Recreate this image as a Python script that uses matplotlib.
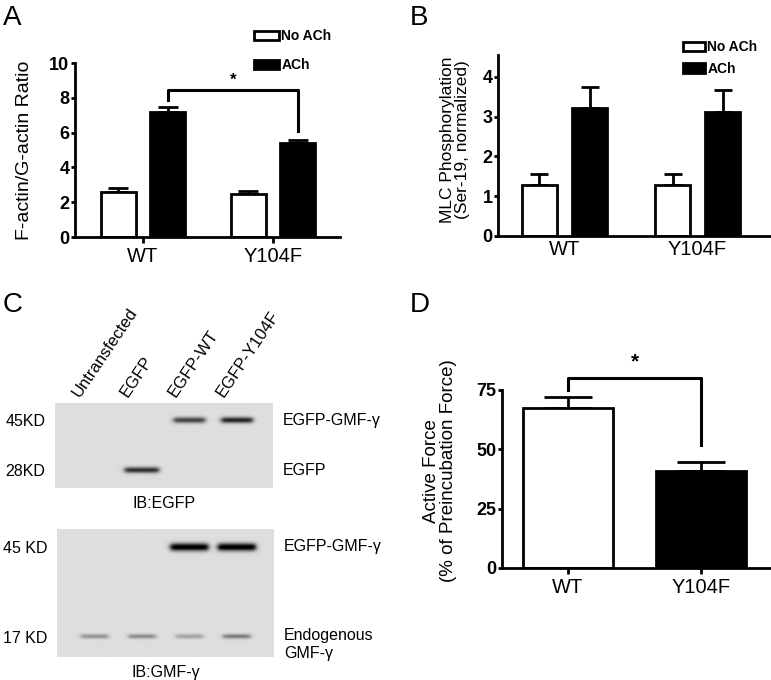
import numpy as np
import matplotlib
matplotlib.use("Agg")
import matplotlib.pyplot as plt  # noqa: E402
from matplotlib.patches import Patch  # noqa: E402

plt.rcParams["font.family"] = ["Liberation Sans", "DejaVu Sans"]

W, H = 771, 680

# ---- data ------------------------------------------------------------------
groups = ["WT", "Y104F"]
legend_labels = ["No ACh", "ACh"]

# A: F-actin/G-actin ratio
a_noach = [2.6, 2.45]
a_noach_err = [0.2, 0.2]
a_ach = [7.2, 5.38]
a_ach_err = [0.25, 0.17]
a_bracket = [7.86, 6.09]   # leg ends (left, right)
a_bracket_top = 8.43

# B: MLC phosphorylation
b_noach = [1.27, 1.29]
b_noach_err = [0.28, 0.28]
b_ach = [3.22, 3.12]
b_ach_err = [0.53, 0.56]

# D: active force
d_force = [67.3, 41.0]
d_force_err = [4.7, 3.5]
d_bracket = [75.0, 52.0]
d_bracket_top = 80.0

# C: western blots (band darkness per lane)
lanes = ["Untransfected", "EGFP", "EGFP-WT", "EGFP-Y104F"]
blot1_rows = [0.20, 0.79]
blot1_left = ["45KD", "28KD"]
blot1_right = ["EGFP-GMF-\u03b3", "EGFP"]
blot1_bands = [[0.0, 0.0, 0.62, 0.75],
               [0.0, 0.70, 0.0, 0.0]]
blot2_rows = [0.14, 0.84]
blot2_left = ["45 KD", "17 KD"]
blot2_right = ["EGFP-GMF-\u03b3", "Endogenous\nGMF-\u03b3"]
blot2_bands = [[0.0, 0.0, 0.95, 0.95],
               [0.30, 0.33, 0.24, 0.40]]


def box(x0, y0, x1, y1):
    return [x0 / W, 1 - y1 / H, (x1 - x0) / W, (y1 - y0) / H]


def style_axis(ax, xticks=True):
    for s in ("top", "right"):
        ax.spines[s].set_visible(False)
    for s in ("left", "bottom"):
        ax.spines[s].set_linewidth(2)
    ax.tick_params(axis="y", length=3, width=2, pad=1, labelsize=13)
    ax.tick_params(axis="x", length=4 if xticks else 0, width=2, pad=3,
                   labelsize=14.5)
    for t in ax.get_yticklabels():
        t.set_fontweight("bold")


def err_up(ax, x, y, e, cap):
    ax.errorbar(x, y, yerr=[np.zeros(len(e)), e], fmt="none", ecolor="black",
                elinewidth=2, capsize=cap, capthick=2, zorder=1)


fig = plt.figure(figsize=(W / 100, H / 100), dpi=100)

# ---- A --------------------------------------------------------------------
ax = fig.add_axes(box(75, 63, 340, 237))
x = np.arange(len(groups))
bw, off = 0.27, 0.19
err_up(ax, x - off, a_noach, a_noach_err, 7)
err_up(ax, x + off, a_ach, a_ach_err, 7)
ax.bar(x - off, a_noach, bw, color="white", edgecolor="black", linewidth=2,
       zorder=2)
ax.bar(x + off, a_ach, bw, color="black", edgecolor="black", linewidth=2,
       zorder=2)
ax.set_xlim(-0.523, 1.515)
ax.set_ylim(0, 10)
ax.set_yticks([0, 2, 4, 6, 8, 10])
ax.set_xticks(x, groups)
style_axis(ax)
ax.plot([off, off, 1 + off, 1 + off],
        [a_bracket[0], a_bracket_top, a_bracket_top, a_bracket[1]],
        color="black", lw=2.2, clip_on=False)
ax.text(0.5 + off, 9.0, "*", ha="center", va="center", fontsize=12,
        fontweight="bold")
ax.set_ylabel("F-actin/G-actin Ratio", fontsize=14)
ax.yaxis.set_label_coords(-0.158, 0.5)
handles = [Patch(facecolor="white", edgecolor="black", linewidth=2),
           Patch(facecolor="black", edgecolor="black", linewidth=2)]
ax.legend(handles, legend_labels, loc="upper left",
          bbox_to_anchor=(0.65, 1.235), frameon=False, borderpad=0,
          handlelength=1.8, handleheight=0.6, handletextpad=0.15,
          labelspacing=1.1, prop={"size": 10, "weight": "bold"})
fig.text(3 / W, 1 - 5 / H, "A", fontsize=20, va="top", ha="left")

# ---- B --------------------------------------------------------------------
ax = fig.add_axes(box(498, 55, 770, 236))
bw, off = 0.263, 0.188
err_up(ax, x - off, b_noach, b_noach_err, 6.5)
err_up(ax, x + off, b_ach, b_ach_err, 6.5)
ax.bar(x - off, b_noach, bw, color="white", edgecolor="black", linewidth=2,
       zorder=2)
ax.bar(x + off, b_ach, bw, color="black", edgecolor="black", linewidth=2,
       zorder=2)
ax.set_xlim(-0.5, 1.545)
ax.set_ylim(0, 4.55)
ax.set_yticks([0, 1, 2, 3, 4])
ax.set_xticks(x, groups)
style_axis(ax, xticks=False)
ax.set_ylabel("MLC Phosphorylation\n(Ser-19, normalized)", fontsize=12.5,
              linespacing=1.0)
ax.yaxis.set_label_coords(-0.103, 0.53)
ax.legend(handles, legend_labels, loc="upper left",
          bbox_to_anchor=(0.655, 1.12), frameon=False, borderpad=0,
          handlelength=1.6, handleheight=0.7, handletextpad=0.15,
          labelspacing=0.55, prop={"size": 10, "weight": "bold"})
fig.text(410 / W, 1 - 5 / H, "B", fontsize=20, va="top", ha="left")

# ---- C --------------------------------------------------------------------
yy = np.linspace(0, 1, 240)[:, None]


def draw_blot(rect, x0, x1, rows, bands, halfw, sig, left, right):
    bx = fig.add_axes(rect)
    xx = np.linspace(x0, x1, 500)[None, :]
    img = np.full((yy.shape[0], xx.shape[1]), 0.87)
    for r, row in enumerate(rows):
        for lane, dark in enumerate(bands[r]):
            if dark <= 0:
                continue
            prof_x = 0.5 * (np.tanh((xx - lane + halfw[r]) / 0.06)
                            - np.tanh((xx - lane - halfw[r]) / 0.06))
            prof_y = np.exp(-((yy - row) / sig[r]) ** 2)
            img -= dark * prof_x * prof_y
    bx.imshow(np.clip(img, 0, 1), cmap="gray", vmin=0, vmax=1, aspect="auto",
              extent=(x0, x1, 1, 0), interpolation="bilinear")
    bx.set_xlim(x0, x1)
    bx.set_ylim(1, 0)
    for s in bx.spines.values():
        s.set_visible(False)
    bx.set_xticks([])
    bx.set_yticks(rows, left, fontsize=11.5)
    bx.tick_params(axis="y", length=0, pad=7)
    for row, lab in zip(rows, right):
        bx.text(1.045, row, lab, transform=bx.get_yaxis_transform(),
                ha="left", va="center" if "\n" not in lab else "top",
                fontsize=11.5, linespacing=1.25)
    return bx


b1 = draw_blot(box(55, 403, 273, 488), -0.82, 3.75, blot1_rows, blot1_bands,
               [0.33, 0.36], [0.035, 0.035], blot1_left, blot1_right)
b2 = draw_blot(box(57, 529, 274, 657), -0.79, 3.78, blot2_rows, blot2_bands,
               [0.40, 0.29], [0.03, 0.018], blot2_left, blot2_right)
# second line of the endogenous label sits under the band
b2.texts[-1].set_y(blot2_rows[1] - 0.07)
for i, lab in enumerate(lanes):
    b1.text(i - 0.24, -0.04, lab, rotation=56, rotation_mode="anchor",
            ha="left", va="bottom", fontsize=12)
b1.text(0.5, -0.1, "IB:EGFP", transform=b1.transAxes, ha="center", va="top",
        fontsize=11.5)
b2.text(0.5, -0.06, "IB:GMF-\u03b3", transform=b2.transAxes, ha="center",
        va="top", fontsize=11.5)
fig.text(3 / W, 1 - 292 / H, "C", fontsize=20, va="top", ha="left")

# ---- D --------------------------------------------------------------------
ax = fig.add_axes(box(502, 390, 770, 568))
err_up(ax, x, d_force, d_force_err, 17)
ax.bar(x, d_force, 0.68, color=["white", "black"], edgecolor="black",
       linewidth=2, zorder=2)
ax.set_xlim(-0.496, 1.519)
ax.set_ylim(0, 75)
ax.set_yticks([0, 25, 50, 75])
ax.set_xticks(x, groups)
style_axis(ax)
ax.plot([0, 0, 1, 1], [d_bracket[0], d_bracket_top, d_bracket_top,
                       d_bracket[1]], color="black", lw=2.2, clip_on=False)
ax.text(0.5, 87, "*", ha="center", va="center", fontsize=15,
        fontweight="bold", clip_on=False)
ax.set_ylabel("Active Force\n(% of Preincubation Force)", fontsize=13.5,
              linespacing=1.0)
ax.yaxis.set_label_coords(-0.168, 0.545)
fig.text(410 / W, 1 - 292 / H, "D", fontsize=20, va="top", ha="left")

fig.savefig("out.png", dpi=100)
